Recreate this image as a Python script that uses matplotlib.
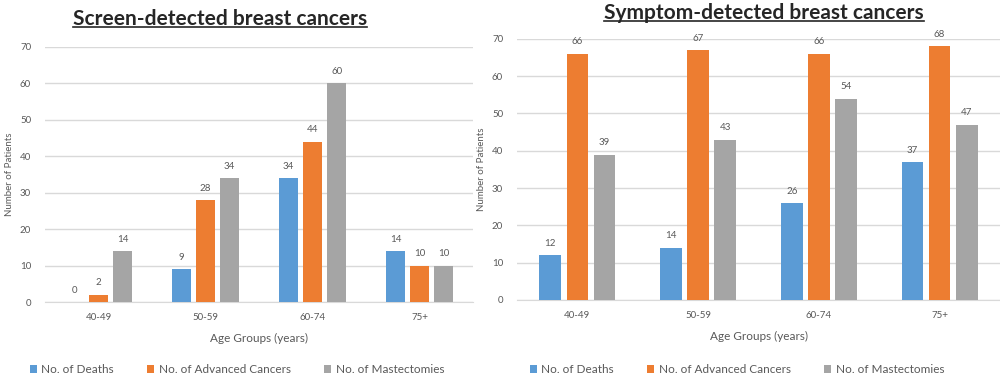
import matplotlib
matplotlib.use('Agg')
import matplotlib.pyplot as plt
import numpy as np
from matplotlib.lines import Line2D

plt.rcParams['font.family'] = ['Lato', 'DejaVu Sans']

groups = ["40-49", "50-59", "60-74", "75+"]
series = ["No. of Deaths", "No. of Advanced Cancers", "No. of Mastectomies"]
colors = ["#5B9BD5", "#ED7D31", "#A5A5A5"]

screen_deaths = [0, 9, 34, 14]
screen_advanced = [2, 28, 44, 10]
screen_mastect = [14, 34, 60, 10]

symptom_deaths = [12, 14, 26, 37]
symptom_advanced = [66, 67, 66, 68]
symptom_mastect = [39, 43, 54, 47]

txt = "#595959"
grid = "#D9D9D9"

fig = plt.figure(figsize=(10, 3.74), dpi=100)


def panel(rect, data, title, title_xy, legend_x):
    ax = fig.add_axes(rect)
    x = np.arange(len(groups))
    w = 0.18
    step = 0.225
    handles = []
    for i, (vals, c, lab) in enumerate(zip(data, colors, series)):
        b = ax.bar(x + (i - 1) * step, vals, width=w, color=c, label=lab, zorder=3)
        handles.append(b)
        for xi, v in zip(x + (i - 1) * step, vals):
            ax.text(xi, v + 2, str(v), ha="center", va="bottom", fontsize=7, color=txt)
    ax.set_xlim(-0.5, 3.5)
    ax.set_ylim(0, 70)
    ax.set_yticks(range(0, 71, 10))
    ax.set_xticks(x)
    ax.set_xticklabels(groups)
    ax.yaxis.grid(True, color=grid, lw=1, zorder=0)
    for s in ["top", "right", "left"]:
        ax.spines[s].set_visible(False)
    ax.spines["bottom"].set_color(grid)
    ax.tick_params(axis="both", length=0, labelsize=7, labelcolor=txt)
    ax.tick_params(axis="y", pad=10)
    ax.tick_params(axis="x", pad=8)
    ax.set_ylabel("Number of Patients", fontsize=7, color=txt, labelpad=4)
    ax.set_xlabel("Age Groups (years)", fontsize=8.5, color=txt, labelpad=8)
    t = fig.text(title_xy[0], title_xy[1], title, ha="center", va="center",
                 fontsize=15, fontweight="bold", color="#262626")
    fig.canvas.draw()
    bb = t.get_window_extent().transformed(fig.transFigure.inverted())
    fig.add_artist(Line2D([bb.x0, bb.x1], [bb.y0 + 0.005, bb.y0 + 0.005],
                          color="#262626", lw=1.2, transform=fig.transFigure))
    fig.legend(handles, series, loc="center", bbox_to_anchor=(legend_x, 0.012),
               ncol=3, frameon=False, fontsize=8.5, handlelength=0.6, handleheight=0.6,
               handletextpad=0.4, columnspacing=2.8, labelcolor=txt)
    return ax


panel([0.045, 0.1925, 0.428, 0.682], [screen_deaths, screen_advanced, screen_mastect],
      "Screen-detected breast cancers", (0.22, 0.95), 0.237)
panel([0.517, 0.198, 0.483, 0.698], [symptom_deaths, symptom_advanced, symptom_mastect],
      "Symptom-detected breast cancers", (0.764, 0.965), 0.737)

fig.savefig("out.png", dpi=100)
